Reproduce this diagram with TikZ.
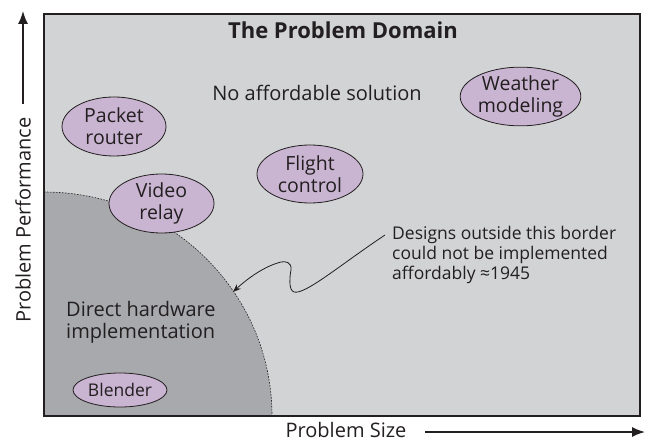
\documentclass[tikz,border=0pt]{standalone}
\usepackage{fontspec}
\setmainfont{Open Sans}
\usetikzlibrary{shapes.geometric,arrows.meta}
\definecolor{bgl}{HTML}{D1D3D4}
\definecolor{bgd}{HTML}{A7A9AC}
\definecolor{lilac}{HTML}{C9B4D1}
\definecolor{ink}{HTML}{231F20}
\tikzset{
  oval/.style={ellipse, draw=ink, line width=0.8pt, fill=lilac, inner sep=0pt,
    text=ink, align=center, font=\fontsize{19.5}{22}\selectfont},
  lbl/.style={text=ink, inner sep=0pt, font=\fontsize{20}{22}\selectfont},
  axisarrow/.style={draw=ink, line width=1.5pt, -{Latex[length=13pt,width=10pt]}},
}
\begin{document}
\begin{tikzpicture}[x=1pt,y=-1pt]
\useasboundingbox (0,0) rectangle (645,441);
% background
\fill[bgl] (44,14) rectangle (640,416);
% dark region
\coordinate (c0) at (44,192);
\coordinate (c1) at (272,416);
\fill[bgd] (44,416) -- (c0) .. controls (169.9,192) and (272,292.3) .. (c1) -- cycle;
\draw[ink, line width=0.6pt, dash pattern=on 1.6pt off 1.4pt] (c0) .. controls (169.9,192) and (272,292.3) .. (c1);
% frame
\draw[ink, line width=2pt] (44,14) rectangle (640,416);
% title and labels
\node[lbl, font=\fontsize{22}{24}\selectfont\bfseries] (title) at (343,30) {The Problem Domain};
\node[lbl, font=\fontsize{20}{24}\selectfont] (none) at (317,93) {No affordable solution};
% ovals
\node[oval, minimum width=105pt, minimum height=57pt] (weather) at (520.5,96.5) {Weather\\modeling};
\node[oval, minimum width=104pt, minimum height=59pt] (packet) at (114,126.5) {Packet\\router};
\node[oval, minimum width=106pt, minimum height=58pt] (flight) at (310,174) {Flight\\control};
\node[oval, minimum width=105pt, minimum height=59pt] (video) at (161.5,203.5) {Video\\relay};
\node[oval, minimum width=94pt, minimum height=34pt, font=\fontsize{17.5}{20}\selectfont] (blender) at (120,390) {Blender};
% direct hardware text
\node[lbl, anchor=west, align=left] (direct) at (66,322) {Direct hardware\\implementation};
% annotation
\node[lbl, anchor=west, align=left, font=\fontsize{17.5}{20}\selectfont] (note) at (392,255) {Designs outside this border\\could not be implemented\\affordably ≈1945};
\coordinate (s) at (385,235);
\coordinate (tip) at (233,292);
\draw[ink, line width=0.8pt, -{Stealth[length=8pt,width=6pt]}] (s) .. controls (340,265) and (305,295) .. (294,292)
  .. controls (288,290) and (290,275) .. (291,270)
  .. controls (292,262) and (285,261) .. (281,262)
  .. controls (265,266) and (248,278) .. (tip);
% axes
\node[lbl] (psize) at (346,430) {Problem Size};
\coordinate (xs) at (425,432);
\coordinate (xe) at (645,432);
\draw[axisarrow] (xs) -- (xe);
\node[lbl, rotate=90] (pperf) at (23,220) {Problem Performance};
\coordinate (ys) at (23,104);
\coordinate (ye) at (23,11);
\draw[axisarrow] (ys) -- (ye);
\end{tikzpicture}
\end{document}
